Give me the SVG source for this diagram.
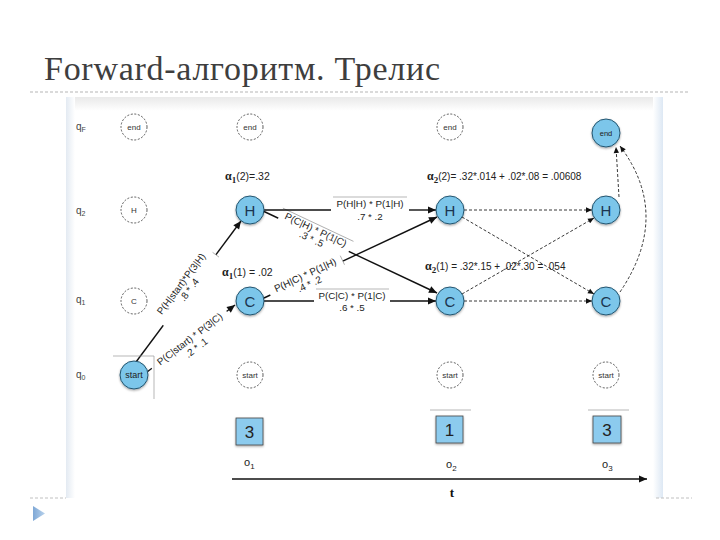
<svg xmlns="http://www.w3.org/2000/svg" width="720" height="540" viewBox="0 0 720 540">
<defs>
<style>
.t{font-family:"Liberation Sans",Arial,sans-serif;fill:#222}
.lbl{font-size:9.8px;text-anchor:middle}
.fn{fill:#7cc6ea;stroke:#23556f;stroke-width:1}
.dn{fill:#fff;stroke:#333;stroke-width:0.8;stroke-dasharray:2 1.6}
.fnt{font-size:15px;text-anchor:middle;fill:#1b3550}
.dnt{font-size:8px;text-anchor:middle;fill:#333}
.sol{stroke:#111;stroke-width:1.4;fill:none}
.dsh{stroke:#222;stroke-width:0.9;fill:none;stroke-dasharray:3 2}
.gr{stroke:#999;stroke-width:0.7;fill:none}
.alpha{font-size:10.5px}
.q{font-size:10px;fill:#444}
.obs{fill:#8ccbee;stroke:#444;stroke-width:0.8}
.gk{font-family:"Liberation Serif","Times New Roman",serif;font-weight:bold}
</style>
<marker id="ah" viewBox="0 0 10 10" refX="10" refY="5" markerWidth="10" markerHeight="8" markerUnits="userSpaceOnUse" orient="auto"><path d="M0,0.5 L10,5 L0,9.5 z" fill="#111"/></marker>
<marker id="ahs" viewBox="0 0 10 10" refX="10" refY="5" markerWidth="8" markerHeight="6" markerUnits="userSpaceOnUse" orient="auto"><path d="M0,0.5 L10,5 L0,9.5 z" fill="#111"/></marker>
<filter id="sh" x="-30%" y="-30%" width="160%" height="160%"><feDropShadow dx="0" dy="1.2" stdDeviation="1" flood-color="#000" flood-opacity="0.35"/></filter>
<linearGradient id="topband" x1="0" y1="0" x2="0" y2="1"><stop offset="0" stop-color="#e9e9e9"/><stop offset="1" stop-color="#ffffff"/></linearGradient>
<linearGradient id="lband" x1="0" y1="0" x2="1" y2="0"><stop offset="0" stop-color="#e3eaf2"/><stop offset="1" stop-color="#ffffff"/></linearGradient>
<linearGradient id="rband" x1="1" y1="0" x2="0" y2="0"><stop offset="0" stop-color="#dde8f4"/><stop offset="1" stop-color="#ffffff"/></linearGradient>
<linearGradient id="chev" x1="0" y1="0" x2="1" y2="0"><stop offset="0" stop-color="#7fa8d6"/><stop offset="1" stop-color="#b8d2ec"/></linearGradient>
</defs>
<rect x="0" y="0" width="720" height="540" fill="#fff"/>

<!-- slide title -->
<text x="44" y="80" font-family="'Liberation Serif','Times New Roman',serif" font-size="34" fill="#3e3e3e" textLength="396" lengthAdjust="spacing">Forward-алгоритм. Трелис</text>
<line x1="30" y1="92" x2="690" y2="92" stroke="#b5b5b5" stroke-width="1" stroke-dasharray="3 2"/>

<!-- figure frame -->
<rect x="66" y="97" width="597" height="14" fill="url(#topband)"/>
<rect x="66" y="97" width="9" height="401" fill="url(#lband)"/>
<rect x="653" y="97" width="10" height="401" fill="url(#rband)"/>
<line x1="30" y1="498" x2="66" y2="498" stroke="#c0c0c0" stroke-width="1" stroke-dasharray="3 2"/>
<line x1="656" y1="498" x2="692" y2="498" stroke="#c0c0c0" stroke-width="1" stroke-dasharray="3 2"/>
<polygon points="33,506 45,513.5 33,521" fill="url(#chev)"/>

<!-- row labels -->
<g id="row-labels">
<text class="t q" x="76" y="130">q<tspan font-size="7" dy="2">F</tspan></text>
<text class="t q" x="76" y="214">q<tspan font-size="7" dy="2">2</tspan></text>
<text class="t q" x="76" y="303">q<tspan font-size="7" dy="2">1</tspan></text>
<text class="t q" x="76" y="378">q<tspan font-size="7" dy="2">0</tspan></text>
</g>

<!-- connectors -->
<g id="connectors">
<!-- start -> H -->
<line class="sol" x1="136" y1="362" x2="241" y2="221" marker-end="url(#ah)"/>
<g transform="translate(189.5,290) rotate(-53.3)">
<rect x="-44" y="-16" width="88" height="21" fill="#fff"/>
<line class="gr" x1="44" y1="-4" x2="44" y2="4"/>
<text class="t lbl" x="0" y="-7">P(H|start)*P(3|H)</text>
<text class="t lbl" x="0" y="3">.8 * .4</text>
</g>
<!-- start -> C -->
<line class="sol" x1="147" y1="372" x2="235" y2="305" marker-end="url(#ah)"/>
<g transform="translate(190,339.3) rotate(-37.3)">
<rect x="-48" y="-7" width="94" height="11" fill="#fff"/>
<text class="t lbl" x="0" y="3">P(C|start) * P(3|C)</text>
<text class="t lbl" x="0" y="14">.2 * .1</text>
</g>
<line class="gr" x1="113" y1="356" x2="154" y2="356"/>
<line class="gr" x1="154" y1="356" x2="154" y2="399"/>
<!-- H -> C (col1 -> col2) -->
<line class="sol" x1="263" y1="211" x2="437" y2="293" marker-end="url(#ah)"/>
<g transform="translate(313.5,234.7) rotate(25.2)">
<rect x="-39" y="-11" width="78" height="21" fill="#fff"/>
<line class="gr" x1="-39" y1="-11" x2="39" y2="-11"/>
<text class="t lbl" x="0" y="-2">P(C|H) * P(1|C)</text>
<text class="t lbl" x="0" y="8">.3 * .5</text>
</g>
<!-- C -> H (col1 -> col2) -->
<line class="sol" x1="264" y1="298" x2="437" y2="217" marker-end="url(#ah)"/>
<g transform="translate(306.6,278.1) rotate(-25.1)">
<rect x="-40" y="-11" width="80" height="15" fill="#fff"/>
<line class="gr" x1="40" y1="-6" x2="40" y2="4"/>
<text class="t lbl" x="0" y="0">P(H|C) * P(1|H)</text>
<text class="t lbl" x="0" y="10">.4 * .2</text>
</g>
<!-- H -> H -->
<line class="sol" x1="264" y1="210" x2="331" y2="210"/>
<line class="sol" x1="409" y1="210" x2="436" y2="210" marker-end="url(#ah)"/>
<line class="gr" x1="333" y1="197" x2="407" y2="197"/>
<text class="t lbl" x="370" y="207">P(H|H) * P(1|H)</text>
<text class="t lbl" x="370" y="220">.7 * .2</text>
<!-- C -> C -->
<line class="sol" x1="264" y1="301" x2="314" y2="301"/>
<line class="sol" x1="390" y1="301" x2="436" y2="301" marker-end="url(#ah)"/>
<line class="gr" x1="316" y1="289" x2="389" y2="289"/>
<text class="t lbl" x="352" y="299">P(C|C) * P(1|C)</text>
<text class="t lbl" x="352" y="311">.6 * .5</text>
<!-- dashed col2 -> col3 -->
<line class="dsh" x1="464" y1="210" x2="592" y2="210" marker-end="url(#ahs)"/>
<line class="dsh" x1="462" y1="217" x2="594" y2="294" marker-end="url(#ahs)"/>
<line class="dsh" x1="462" y1="294" x2="594" y2="218" marker-end="url(#ahs)"/>
<line class="dsh" x1="464" y1="301" x2="592" y2="301" marker-end="url(#ahs)"/>
<line class="dsh" x1="619" y1="197" x2="616" y2="147" marker-end="url(#ahs)"/>
<path class="dsh" d="M620,292 Q672,215 620,146" marker-end="url(#ahs)"/>
<!-- time axis -->
<line x1="232" y1="479" x2="647" y2="479" stroke="#111" stroke-width="1.6" marker-end="url(#ah)"/>
<line class="gr" x1="430" y1="410" x2="471" y2="410"/>
<line class="gr" x1="588" y1="410" x2="629" y2="410"/>
</g>

<!-- column 0 -->
<g id="n-end-0"><circle class="dn" cx="134" cy="127" r="13"/><text class="t dnt" x="134" y="130">end</text></g>
<g id="n-h-0"><circle class="dn" cx="134" cy="210" r="13"/><text class="t dnt" x="134" y="213">H</text></g>
<g id="n-c-0"><circle class="dn" cx="134" cy="301" r="13"/><text class="t dnt" x="134" y="304">C</text></g>
<g id="n-start-0"><circle class="fn" cx="134" cy="375" r="14" filter="url(#sh)"/><text class="t" x="134" y="378" font-size="9" text-anchor="middle" fill="#1b3550">start</text></g>

<!-- column 1 -->
<g id="n-end-1"><circle class="dn" cx="250" cy="127" r="13"/><text class="t dnt" x="250" y="130">end</text></g>
<g id="n-h-1"><circle class="fn" cx="250" cy="210" r="14" filter="url(#sh)"/><text class="t fnt" x="250" y="215.5">H</text></g>
<g id="n-c-1"><circle class="fn" cx="250" cy="301" r="14" filter="url(#sh)"/><text class="t fnt" x="250" y="306.5">C</text></g>
<g id="n-start-1"><circle class="dn" cx="250" cy="375" r="13"/><text class="t dnt" x="250" y="378">start</text></g>

<!-- column 2 -->
<g id="n-end-2"><circle class="dn" cx="450" cy="127" r="13"/><text class="t dnt" x="450" y="130">end</text></g>
<g id="n-h-2"><circle class="fn" cx="450" cy="210" r="14" filter="url(#sh)"/><text class="t fnt" x="450" y="215.5">H</text></g>
<g id="n-c-2"><circle class="fn" cx="450" cy="301" r="14" filter="url(#sh)"/><text class="t fnt" x="450" y="306.5">C</text></g>
<g id="n-start-2"><circle class="dn" cx="450" cy="375" r="13"/><text class="t dnt" x="450" y="378">start</text></g>

<!-- column 3 -->
<g id="n-end-3"><circle class="fn" cx="606" cy="133" r="14" filter="url(#sh)"/><text class="t" x="606" y="136" font-size="7.5" text-anchor="middle" fill="#1b3550">end</text></g>
<g id="n-h-3"><circle class="fn" cx="606" cy="210" r="14" filter="url(#sh)"/><text class="t fnt" x="606" y="215.5">H</text></g>
<g id="n-c-3"><circle class="fn" cx="606" cy="301" r="14" filter="url(#sh)"/><text class="t fnt" x="606" y="306.5">C</text></g>
<g id="n-start-3"><circle class="dn" cx="606" cy="375" r="13"/><text class="t dnt" x="606" y="378">start</text></g>

<!-- alpha annotations -->
<g id="alphas">
<text class="t alpha" x="225" y="180"><tspan class="gk" font-size="12">α</tspan><tspan class="gk" font-size="9" dy="3">1</tspan><tspan dy="-3">(2)=.32</tspan></text>
<text class="t alpha" x="222" y="276"><tspan class="gk" font-size="12">α</tspan><tspan class="gk" font-size="9" dy="3">1</tspan><tspan dy="-3">(1) = .02</tspan></text>
<text class="t" font-size="10" x="427" y="180"><tspan class="gk" font-size="12">α</tspan><tspan class="gk" font-size="9" dy="3">2</tspan><tspan dy="-3">(2)= .32*.014 + .02*.08 = .00608</tspan></text>
<text class="t" font-size="10" x="425" y="270"><tspan class="gk" font-size="12">α</tspan><tspan class="gk" font-size="9" dy="3">2</tspan><tspan dy="-3">(1) = .32*.15 + .02*.30 = .054</tspan></text>
</g>

<!-- observations -->
<g id="obs-1"><rect class="obs" x="236" y="418" width="27" height="27" filter="url(#sh)"/><text class="t" x="249.5" y="438" font-size="17" text-anchor="middle" fill="#1b2b40">3</text></g>
<g id="obs-2"><rect class="obs" x="436" y="416" width="27" height="27" filter="url(#sh)"/><text class="t" x="449.5" y="436" font-size="17" text-anchor="middle" fill="#1b2b40">1</text></g>
<g id="obs-3"><rect class="obs" x="593" y="416" width="28" height="27" filter="url(#sh)"/><text class="t" x="607" y="436" font-size="17" text-anchor="middle" fill="#1b2b40">3</text></g>
<g id="o-labels">
<text class="t" x="244" y="466" font-size="11" fill="#333">o<tspan font-size="8" dy="3">1</tspan></text>
<text class="t" x="446" y="468" font-size="11" fill="#333">o<tspan font-size="8" dy="3">2</tspan></text>
<text class="t" x="602" y="468" font-size="11" fill="#333">o<tspan font-size="8" dy="3">3</tspan></text>
<text x="452" y="497" font-family="'Liberation Serif','Times New Roman',serif" font-weight="bold" font-size="13" text-anchor="middle" fill="#111">t</text>
</g>
</svg>
